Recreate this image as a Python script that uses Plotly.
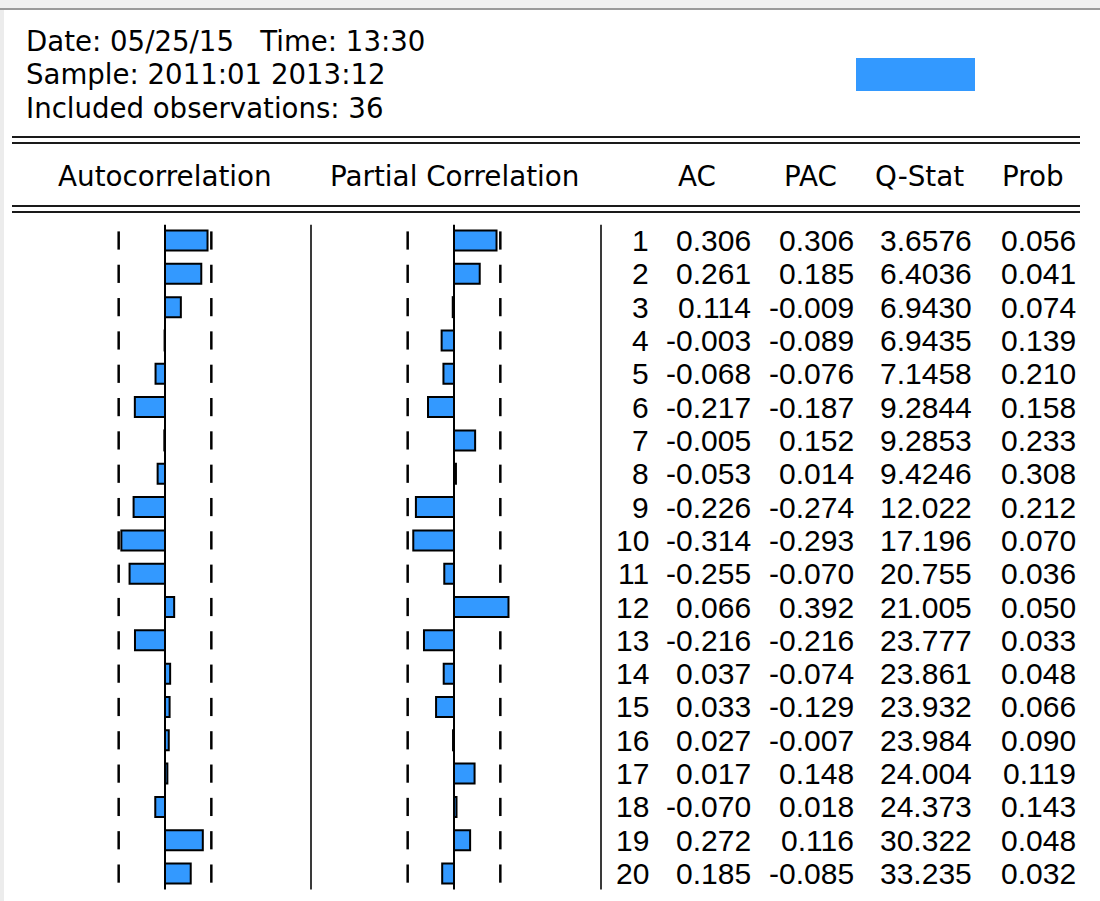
import plotly.graph_objects as go

# ---------------- data ----------------
header_lines = ["Date: 05/25/15   Time: 13:30",
                "Sample: 2011:01 2013:12",
                "Included observations: 36"]
n_obs = 36
col_titles = ["Autocorrelation", "Partial Correlation", "AC", "PAC", "Q-Stat", "Prob"]
lags = list(range(1, 21))
ac = [0.306, 0.261, 0.114, -0.003, -0.068, -0.217, -0.005, -0.053, -0.226, -0.314,
      -0.255, 0.066, -0.216, 0.037, 0.033, 0.027, 0.017, -0.070, 0.272, 0.185]
pac = [0.306, 0.185, -0.009, -0.089, -0.076, -0.187, 0.152, 0.014, -0.274, -0.293,
       -0.070, 0.392, -0.216, -0.074, -0.129, -0.007, 0.148, 0.018, 0.116, -0.085]
qstat = [3.6576, 6.4036, 6.9430, 6.9435, 7.1458, 9.2844, 9.2853, 9.4246, 12.022, 17.196,
         20.755, 21.005, 23.777, 23.861, 23.932, 23.984, 24.004, 24.373, 30.322, 33.235]
prob = [0.056, 0.041, 0.074, 0.139, 0.210, 0.158, 0.233, 0.308, 0.212, 0.070,
        0.036, 0.050, 0.033, 0.048, 0.066, 0.090, 0.119, 0.143, 0.048, 0.032]

# ---------------- geometry / style ----------------
W, H = 1100, 901
BLUE = "#3399ff"
HEAD_FONT = "DejaVu Sans"
TAB_FONT = "Liberation Sans, Arial"
ROW0, ROW_STEP = 240.5, 33.32          # pixel centre of first row, row pitch
SCALE = 139.0                           # pixels per correlation unit
ACF_ZERO, PACF_ZERO = 165.0, 454.0      # pixel x of zero lines
HALF = 140.0                            # half-width of each bar panel (px)

def fx(p):
    return p / W

def fy(p):
    return 1 - p / H

bound = 2 / n_obs ** 0.5

y_top = lags[0] - ROW0 / ROW_STEP
y_bot = lags[0] + (H - ROW0) / ROW_STEP

def qfmt(v):
    return f"{v:.4f}" if v < 10 else f"{v:.3f}"

def visible_ticks(vals):
    """Bound markers, omitting those hidden underneath a bar that crosses them."""
    xs, ys = [], []
    for k, v in zip(lags, vals):
        for b in (bound, -bound):
            if v * b > 0 and abs(v) > bound:
                continue
            xs.append(b)
            ys.append(k)
    return xs, ys

fig = go.Figure()

tick_style = dict(mode="markers", hoverinfo="skip",
                  marker=dict(symbol="line-ns", size=13,
                              line=dict(color="black", width=2.5)))
tx, ty = visible_ticks(ac)
fig.add_trace(go.Scatter(x=tx, y=ty, xaxis="x", yaxis="y", **tick_style))
tx, ty = visible_ticks(pac)
fig.add_trace(go.Scatter(x=tx, y=ty, xaxis="x2", yaxis="y", **tick_style))

bar_style = dict(orientation="h", width=0.6,
                 marker=dict(color=BLUE, line=dict(color="black", width=2)),
                 hoverinfo="skip")
fig.add_trace(go.Bar(x=ac, y=lags, xaxis="x", yaxis="y", **bar_style))
fig.add_trace(go.Bar(x=pac, y=lags, xaxis="x2", yaxis="y", **bar_style))

shapes = []
# window chrome
shapes.append(dict(type="rect", xref="paper", yref="paper", x0=0, x1=1, y0=fy(8), y1=1,
                   fillcolor="#f0f0f0", line=dict(width=0), layer="above"))
shapes.append(dict(type="line", xref="paper", yref="paper", x0=0, x1=1, y0=fy(9), y1=fy(9),
                   line=dict(color="#9a9a9a", width=2), layer="above"))
shapes.append(dict(type="rect", xref="paper", yref="paper", x0=0, x1=fx(4), y0=0, y1=fy(10),
                   fillcolor="#ececec", line=dict(width=0), layer="above"))
# legend-like blue box
shapes.append(dict(type="rect", xref="paper", yref="paper", x0=fx(856), x1=fx(975),
                   y0=fy(91), y1=fy(58), fillcolor=BLUE, line=dict(width=0)))
# double rules
for yy in (137, 143, 206, 212):
    shapes.append(dict(type="line", xref="paper", yref="paper", x0=fx(12), x1=fx(1080),
                       y0=fy(yy), y1=fy(yy), line=dict(color="#1a1a1a", width=2)))
# zero lines
for xr in ("x", "x2"):
    shapes.append(dict(type="line", xref=xr, yref="y", x0=0, x1=0,
                       y0=lags[0] - 0.47, y1=lags[-1] + 0.48,
                       line=dict(color="black", width=2)))
# separators
for px in (311, 601):
    shapes.append(dict(type="line", xref="paper", yref="y", x0=fx(px), x1=fx(px),
                       y0=lags[0] - 0.47, y1=lags[-1] + 0.48,
                       line=dict(color="#3a3a3a", width=2)))

ann = []
for i, t in enumerate(header_lines):
    ann.append(dict(text=t, xref="paper", yref="paper", x=fx(24), y=fy(42 + 33 * i),
                    xanchor="left", yanchor="middle", showarrow=False,
                    font=dict(family=HEAD_FONT, size=27.6, color="black")))
title_x = [164.5, 454, 697, 810, 919, 1033]
for t, px in zip(col_titles, title_x):
    ann.append(dict(text=t, xref="paper", yref="paper", x=fx(px), y=fy(176),
                    xanchor="center", yanchor="middle", showarrow=False,
                    font=dict(family=HEAD_FONT, size=27.8, color="black")))

col_right = [651, 753, 856, 974, 1078]
for k, a, p, q, pr in zip(lags, ac, pac, qstat, prob):
    cells = [str(k), f"{a:.3f}", f"{p:.3f}", qfmt(q), f"{pr:.3f}"]
    for c, px in zip(cells, col_right):
        ann.append(dict(text=c, xref="paper", yref="y", x=fx(px), y=k,
                        xanchor="right", yanchor="middle", showarrow=False,
                        font=dict(family=TAB_FONT, size=30, color="black")))

hidden = dict(visible=False, fixedrange=True)
fig.update_layout(
    width=W, height=H, margin=dict(l=0, r=0, t=0, b=0),
    paper_bgcolor="white", plot_bgcolor="white", showlegend=False, barmode="overlay",
    xaxis=dict(domain=[fx(ACF_ZERO - HALF), fx(ACF_ZERO + HALF)],
               range=[-HALF / SCALE, HALF / SCALE], anchor="y", **hidden),
    xaxis2=dict(domain=[fx(PACF_ZERO - HALF), fx(PACF_ZERO + HALF)],
                range=[-HALF / SCALE, HALF / SCALE], anchor="y", **hidden),
    yaxis=dict(domain=[0, 1], range=[y_bot, y_top], **hidden),
    shapes=shapes, annotations=ann,
)

fig.write_html("out.html", config={"displayModeBar": False},
               post_script="document.body.style.margin='0';"
                           "document.body.style.overflow='hidden';")
